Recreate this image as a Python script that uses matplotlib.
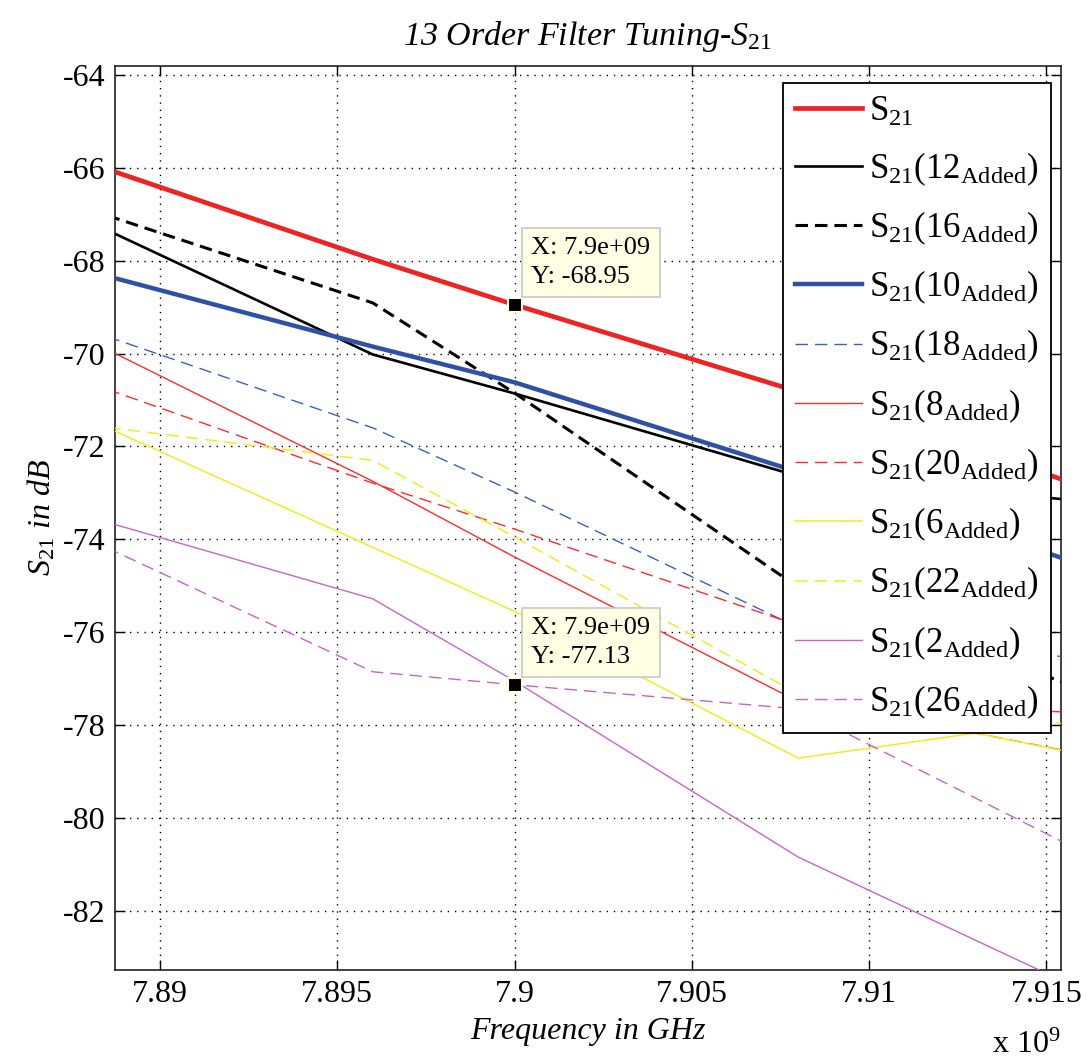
import numpy as np
import matplotlib
matplotlib.use("Agg")
import matplotlib.pyplot as plt
from matplotlib.ticker import FuncFormatter

# ---------------- data ----------------
freq_ghz = [7.888, 7.896, 7.900, 7.908, 7.913, 7.916]

s21        = [-65.90, -67.97, -68.95, -70.82, -72.09, -72.85]
s21_12     = [-67.16, -70.02, -70.86, -72.64, -72.97, -73.17]
s21_16     = [-66.90, -68.91, -70.85, -75.03, -76.40, -77.22]
s21_10     = [-68.23, -69.85, -70.62, -72.55, -73.79, -74.54]
s21_18     = [-69.50, -71.60, -72.98, -75.90, -76.32, -76.57]
s21_8      = [-69.72, -72.75, -74.38, -77.49, -77.64, -77.73]
s21_20     = [-70.63, -72.79, -73.78, -75.85, -78.17, -78.62]
s21_6      = [-71.42, -74.17, -75.55, -78.71, -78.17, -78.63]
s21_22     = [-71.54, -72.30, -73.95, -77.33, -77.76, -78.01]
s21_2      = [-73.52, -75.28, -77.05, -80.84, -82.63, -83.70]
s21_26     = [-74.00, -76.85, -77.13, -77.65, -79.57, -80.72]

labels = [r'$\mathregular{S_{21}}$',
          r'$\mathregular{S_{21}(12_{Added})}$',
          r'$\mathregular{S_{21}(16_{Added})}$',
          r'$\mathregular{S_{21}(10_{Added})}$',
          r'$\mathregular{S_{21}(18_{Added})}$',
          r'$\mathregular{S_{21}(8_{Added})}$',
          r'$\mathregular{S_{21}(20_{Added})}$',
          r'$\mathregular{S_{21}(6_{Added})}$',
          r'$\mathregular{S_{21}(22_{Added})}$',
          r'$\mathregular{S_{21}(2_{Added})}$',
          r'$\mathregular{S_{21}(26_{Added})}$']

tip_x = [7.9e9, 7.9e9]
tip_y = [-68.95, -77.13]
tip_text = ["X: 7.9e+09\nY: -68.95", "X: 7.9e+09\nY: -77.13"]

x_ticks_ghz = [7.89, 7.895, 7.9, 7.905, 7.91, 7.915]
y_ticks = [-82, -80, -78, -76, -74, -72, -70, -68, -66, -64]

# ---------------- style ----------------
plt.rcParams['font.family'] = ['Liberation Serif', 'DejaVu Serif']
plt.rcParams['mathtext.fontset'] = 'custom'
plt.rcParams['mathtext.rm'] = 'Liberation Serif'
plt.rcParams['mathtext.it'] = 'Liberation Serif:italic'
plt.rcParams['mathtext.bf'] = 'Liberation Serif:bold'
plt.rcParams['axes.unicode_minus'] = False
plt.rcParams['lines.scale_dashes'] = False

fig = plt.figure(figsize=(10.86, 10.61), dpi=100)
ax = fig.add_axes([115/1086, 1 - 970/1061, (1061-115)/1086, (970-66)/1061])

freq = np.array(freq_ghz) * 1e9
dash = (0, (9, 5))
series = [
    (s21,    '#EE2424', 3.4, '-'),
    (s21_12, '#000000', 1.9, '-'),
    (s21_16, '#000000', 2.2, dash),
    (s21_10, '#3050A8', 3.2, '-'),
    (s21_18, '#3A5FC8', 1.0, dash),
    (s21_8,  '#FF2A2A', 1.0, '-'),
    (s21_20, '#FF2A2A', 1.0, dash),
    (s21_6,  '#EEEE22', 1.1, '-'),
    (s21_22, '#EEEE22', 1.1, dash),
    (s21_2,  '#C864C8', 1.0, '-'),
    (s21_26, '#C864C8', 1.0, dash),
]
for (vals, c, lw, ls), lab in zip(series, labels):
    ax.plot(freq, vals, color=c, lw=lw, linestyle=ls, label=lab, zorder=3)

ax.set_xlim(7.88873e9, 7.91541e9)
ax.set_ylim(-83.27, -63.81)
ax.set_xticks([v * 1e9 for v in x_ticks_ghz])
ax.xaxis.set_major_formatter(FuncFormatter(lambda v, p: '%g' % round(v / 1e9, 4)))
ax.set_yticks(y_ticks)

ax.grid(True, color='black', linestyle=(0, (1.0, 4.2)), linewidth=1.0, zorder=1)
ax.set_axisbelow(True)
ax.tick_params(direction='in', top=True, right=True, length=7, width=1.0,
               labelsize=23, pad=7)
for sp in ax.spines.values():
    sp.set_linewidth(1.2)
    sp.set_color('#222222')

ax.set_title(r'13 Order Filter Tuning-$\mathit{S_{21}}$', fontsize=24.5, style='italic', pad=15)
ax.set_xlabel('Frequency in GHz', fontsize=23, style='italic', labelpad=6)
ax.set_ylabel(r'$\mathit{S_{21}}$ in dB', fontsize=23, style='italic', labelpad=4)
ax.text(1.0, -0.1, r'x $\mathregular{10^{9}}$', transform=ax.transAxes,
        ha='right', va='bottom', fontsize=23)

# data tips
for xv, yv, t in zip(tip_x, tip_y, tip_text):
    ax.plot([xv], [yv], marker='s', markersize=10.5, mfc='black', mec='#FFFFD8',
            mew=1.5, zorder=6)
    ax.annotate(t, (xv, yv), xytext=(12, 12), textcoords='offset points',
                ha='left', va='bottom', fontsize=19, linespacing=1.4, zorder=7,
                bbox=dict(boxstyle='square,pad=0.35', fc='#FFFFE6', ec='#C8C8BE', lw=1.2))

leg = ax.legend(loc='upper right', bbox_to_anchor=(0.989, 0.981), borderaxespad=0,
                fontsize=25, handlelength=1.95, handletextpad=0.2, labelspacing=0.63,
                borderpad=0.35, fancybox=False, framealpha=1, edgecolor='black')
leg.get_frame().set_linewidth(1.3)
leg.set_zorder(10)

fig.savefig('out.png', dpi=100)
